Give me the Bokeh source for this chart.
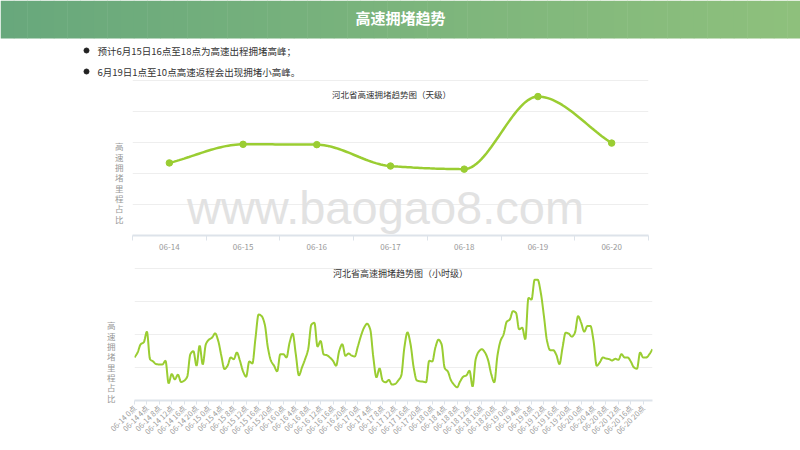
import numpy as np
from bokeh.plotting import figure
from bokeh.models import Range1d, FixedTicker, Label
from bokeh.layouts import column
from bokeh.embed import file_html
from bokeh.resources import INLINE
from bokeh.core.properties import value
import math

# ---------------- data ----------------
header_title = "高速拥堵趋势"
bullets = ["预计6月15日16点至18点为高速出程拥堵高峰；",
           "6月19日1点至10点高速返程会出现拥堵小高峰。"]

daily_title = "河北省高速拥堵趋势图（天级）"
days = ["06-14", "06-15", "06-16", "06-17", "06-18", "06-19", "06-20"]
daily_values = [2.34, 2.94, 2.93, 2.24, 2.14, 4.48, 2.98]

hourly_title = "河北省高速拥堵趋势图（小时级）"
label_hours = [0, 4, 8, 12, 16, 20]
hourly_values = [
    1.30, 1.45, 1.70, 1.76, 2.08, 1.25, 1.18, 1.10, 1.09, 1.09, 1.20, 0.52,
    0.80, 0.64, 0.78, 0.56, 0.60, 0.72, 1.40, 1.49, 1.05, 1.66, 1.09, 1.70,
    1.84, 1.90, 2.03, 1.80, 1.35, 0.95, 1.05, 1.30, 1.25, 1.45, 1.20, 0.88,
    0.72, 1.18, 1.12, 1.88, 2.60, 2.55, 2.30, 1.60, 1.20, 1.05, 0.88, 1.40,
    1.40, 1.30, 1.75, 2.02, 1.40, 0.76, 1.00, 1.25, 1.55, 2.29, 2.35, 1.63,
    1.80, 1.39, 1.37, 1.30, 1.20, 1.05, 1.50, 1.70, 1.35, 1.42, 1.36, 1.33,
    1.63, 1.95, 2.20, 2.32, 2.15, 1.30, 0.70, 0.97, 0.60, 0.55, 0.62, 0.48,
    0.50, 0.60, 0.75, 1.60, 2.06, 1.70, 1.00, 0.61, 0.58, 0.57, 0.55, 1.20,
    1.18, 1.60, 1.84, 1.70, 0.98, 0.88, 0.62, 0.48, 0.40, 0.58, 0.72, 0.76,
    0.90, 0.42, 1.25, 1.48, 1.55, 1.45, 1.22, 0.80, 0.55, 1.35, 1.80, 2.00,
    2.38, 2.45, 2.70, 2.65, 2.15, 2.20, 1.85, 3.10, 3.05, 3.65, 3.65, 3.25,
    2.55, 1.80, 1.52, 1.52, 1.38, 1.10, 1.60, 2.05, 2.02, 1.93, 2.05, 2.55,
    2.35, 2.08, 2.25, 2.25, 1.80, 1.05, 1.15, 1.30, 1.27, 1.25, 1.21, 1.26,
    1.23, 1.40, 1.30, 1.30, 1.18, 1.00, 0.96, 1.45, 1.30, 1.30, 1.40, 1.55,
]
y_axis_label = "高速拥堵里程占比"
watermark = "www.baogao8.com"

# ---------------- style ----------------
CJK = "Noto Sans CJK SC"
LINE = "#9ACD32"
GRID = "#eeeeee"
AXIS = "#dde3ea"
TICKLBL = "#999999"


def monotone(xs, ys, n=12):
    xs = np.asarray(xs, float)
    ys = np.asarray(ys, float)
    h = np.diff(xs)
    d = np.diff(ys) / h
    m = np.zeros_like(ys)
    m[0], m[-1] = d[0], d[-1]
    for k in range(1, len(ys) - 1):
        if d[k - 1] * d[k] > 0:
            m[k] = 2.0 / (1.0 / d[k - 1] + 1.0 / d[k])
    ox, oy = [], []
    t = np.linspace(0, 1, n, endpoint=False)
    for k in range(len(xs) - 1):
        h00 = 2 * t**3 - 3 * t**2 + 1
        h10 = t**3 - 2 * t**2 + t
        h01 = -2 * t**3 + 3 * t**2
        h11 = t**3 - t**2
        ox.extend(xs[k] + t * h[k])
        oy.extend(h00 * ys[k] + h10 * h[k] * m[k] + h01 * ys[k + 1] + h11 * h[k] * m[k + 1])
    ox.append(xs[-1])
    oy.append(ys[-1])
    return ox, oy


def style_yaxis_label(p, pos, standoff):
    ax = p.yaxis[0]
    ax.ticker = FixedTicker(ticks=[pos], minor_ticks=[])
    ax.major_label_overrides = {pos: "\n".join(y_axis_label)}
    ax.axis_line_color = None
    ax.major_tick_line_color = None
    ax.minor_tick_line_color = None
    ax.major_tick_out = 0
    ax.major_label_standoff = standoff
    ax.major_label_orientation = "horizontal"
    ax.major_label_text_font = CJK
    ax.major_label_text_font_size = "8.5px"
    ax.major_label_text_color = "#999999"
    ax.major_label_text_line_height = 0.86


# ---------------- header + bullets ----------------
pa = figure(width=800, height=78, x_range=Range1d(0, 800), y_range=Range1d(78, 0),
            output_backend="svg", toolbar_location=None, min_border=0,
            frame_align=False)
pa.axis.visible = False
pa.grid.visible = False
pa.outline_line_color = None

c0 = np.array([104, 168, 124])
c1 = np.array([142, 192, 124])
nstrip = 60
edges = np.linspace(0, 800, nstrip + 1)
cols = []
for i in range(nstrip):
    c = c0 + (c1 - c0) * (i / (nstrip - 1))
    cols.append("#%02x%02x%02x" % tuple(int(round(v)) for v in c))
pa.quad(left=edges[:-1], right=edges[1:] + 0.5, top=0, bottom=38,
        fill_color=cols, line_color=None)
pa.text(x=[400], y=[17], text=[header_title], text_align="center",
        text_baseline="middle", text_color="white", text_font_size="15px",
        text_font_style="bold", text_font=value(CJK))
pa.scatter(x=[86, 86], y=[50, 71], size=5, color="#222222")
pa.text(x=[97, 97], y=[50, 71], text=bullets, text_baseline="middle",
        text_color="#333333", text_font_size="9.5px", text_font=value(CJK))

# ---------------- daily chart ----------------
pb = figure(width=800, height=180, x_range=Range1d(-0.5, 6.5), y_range=Range1d(0, 5.03),
            output_backend="svg", toolbar_location=None, frame_align=False,
            min_border_left=132, min_border_right=152, min_border_top=1, min_border_bottom=23)
pb.outline_line_color = None
pb.xgrid.visible = False
pb.ygrid.ticker = FixedTicker(ticks=[1, 2, 3, 4, 5])
pb.ygrid.grid_line_color = GRID
style_yaxis_label(pb, 1.71, 9)
pb.xaxis.ticker = FixedTicker(ticks=list(range(len(days))),
                              minor_ticks=[i - 0.5 for i in range(len(days) + 1)])
pb.xaxis.major_label_overrides = {i: d for i, d in enumerate(days)}
pb.xaxis.major_tick_line_color = None
pb.xaxis.major_tick_out = 0
pb.xaxis.minor_tick_line_color = AXIS
pb.xaxis.minor_tick_out = 5
pb.xaxis.minor_tick_in = 0
pb.xaxis.axis_line_color = AXIS
pb.xaxis.axis_line_width = 2
pb.xaxis.major_label_standoff = 3
pb.xaxis.major_label_text_font_size = "8px"
pb.xaxis.major_label_text_color = TICKLBL
pb.xaxis.major_label_text_font = CJK

# annotation positions in screen units, measured from the frame's lower-left corner
pb.add_layout(Label(x=253, y=28, x_units="screen", y_units="screen", text=watermark,
                    text_align="center", text_baseline="middle",
                    text_font_size="47px", text_color="#e2e2e2",
                    text_font="Liberation Sans", level="underlay"))
sx, sy = monotone(list(range(len(days))), daily_values, n=30)
pb.line(sx, sy, line_color=LINE, line_width=2.5)
pb.scatter(list(range(len(days))), daily_values, size=6.5, color=LINE)
pb.add_layout(Label(x=259, y=142, x_units="screen", y_units="screen", text=daily_title,
                    text_align="center", text_baseline="middle", text_font_size="8.5px",
                    text_color="#333333", text_font=CJK))

# ---------------- hourly chart ----------------
n_hours = len(hourly_values)
hours = list(range(n_hours))
tick_pos = [d * 24 + h for d in range(len(days)) for h in label_hours]
tick_lbl = ["%s %d点" % (d, h) for d in days for h in label_hours]

pc = figure(width=800, height=192, x_range=Range1d(0, n_hours - 1), y_range=Range1d(0, 4.05),
            output_backend="svg", toolbar_location=None, frame_align=False,
            min_border_left=134, min_border_right=148, min_border_top=8, min_border_bottom=50)
pc.outline_line_color = None
pc.xgrid.visible = False
pc.ygrid.ticker = FixedTicker(ticks=[1, 2, 3, 4])
pc.ygrid.grid_line_color = GRID
style_yaxis_label(pc, 1.18, 19)
pc.xaxis.ticker = FixedTicker(ticks=tick_pos, minor_ticks=[])
pc.xaxis.major_label_overrides = {p: l for p, l in zip(tick_pos, tick_lbl)}
pc.xaxis.major_label_orientation = math.pi / 4
pc.xaxis.major_tick_line_color = AXIS
pc.xaxis.major_tick_out = 4
pc.xaxis.major_tick_in = 0
pc.xaxis.axis_line_color = AXIS
pc.xaxis.axis_line_width = 2
pc.xaxis.major_label_standoff = 2
pc.xaxis.major_label_text_font_size = "7.5px"
pc.xaxis.major_label_text_color = TICKLBL
pc.xaxis.major_label_text_font = CJK

hx, hy = monotone(hours, hourly_values, n=8)
pc.line(hx, hy, line_color=LINE, line_width=2)
pc.add_layout(Label(x=266, y=127, x_units="screen", y_units="screen", text=hourly_title,
                    text_align="center", text_baseline="middle", text_font_size="9px",
                    text_color="#333333", text_font=CJK))

layout = column(pa, pb, pc, spacing=0)
open("out.html", "w").write(file_html(layout, INLINE))
